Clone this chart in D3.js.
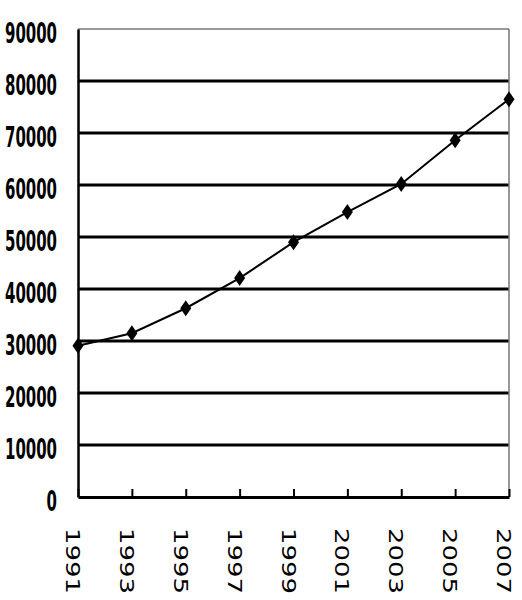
<!DOCTYPE html>
<html>
<head>
<meta charset="utf-8">
<script src="https://cdn.jsdelivr.net/npm/d3@7"></script>
<style>
body { margin: 0; background: #fff; }
</style>
</head>
<body>
<svg id="chart" width="522" height="600"></svg>
<script>
//Chart data
var years = ["1991", "1993", "1995", "1997", "1999", "2001", "2003", "2005", "2007"];
var values = [29100, 31500, 36300, 42100, 49000, 54800, 60200, 68600, 76500];
var yTicks = [0, 10000, 20000, 30000, 40000, 50000, 60000, 70000, 80000, 90000];

var svg = d3.select("#chart");
//Plot area edges (avoid the name "top", it is taken by window.top)
var plotLeft = 78, plotRight = 509, plotTop = 29, plotBottom = 497;

var x = d3.scalePoint().domain(years).range([plotLeft, plotRight]);
var y = d3.scaleLinear().domain([0, 90000]).range([plotBottom, plotTop]);

//Horizontal grid lines
svg.selectAll("line.grid")
    .data(yTicks.filter(function(d) {return d > 0;}))
    .enter()
    .append("line")
    .attr("class", "grid")
    .attr("x1", plotLeft).attr("x2", plotRight)
    .attr("y1", function(d) {return y(d);})
    .attr("y2", function(d) {return y(d);})
    .attr("stroke", function(d) {return d == 90000 ? "#777" : "#000";})
    .attr("stroke-width", function(d) {return d == 90000 ? 1.5 : 3;});

//Right border
svg.append("line")
    .attr("x1", plotRight).attr("x2", plotRight)
    .attr("y1", plotTop).attr("y2", plotBottom)
    .attr("stroke", "#777").attr("stroke-width", 1.5);

//Y axis
var yAxis = d3.axisLeft(y).tickValues(yTicks).tickSize(0).tickPadding(0).tickFormat(d3.format("d"));
var gy = svg.append("g").attr("transform", "translate(" + plotLeft + ",0)").call(yAxis);
gy.select(".domain").attr("stroke", "#000").attr("stroke-width", 2.5);
gy.selectAll("text")
    .attr("x", -21)
    .attr("dy", "0.45em")
    .attr("fill", "#000")
    .style("font-family", "'DejaVu Sans Condensed', 'DejaVu Sans', sans-serif")
    .style("font-size", "29px")
    .style("font-weight", "bold")
    .attr("textLength", function(d) {return String(d).length * 10.4;})
    .attr("lengthAdjust", "spacingAndGlyphs");

//X axis, ticks point up inside the plot
var xAxis = d3.axisBottom(x).tickSize(-8).tickSizeOuter(0).tickFormat("");
var gx = svg.append("g").attr("transform", "translate(0," + plotBottom + ")").call(xAxis);
gx.select(".domain").attr("stroke", "#000").attr("stroke-width", 3);
gx.selectAll(".tick line").attr("stroke", "#000").attr("stroke-width", 2);

//Rotated year labels
svg.selectAll("text.year")
    .data(years)
    .enter()
    .append("text")
    .attr("class", "year")
    .attr("transform", function(d) {return "translate(" + (x(d) - 5) + ",528) rotate(90)";})
    .attr("dy", "0.35em")
    .attr("text-anchor", "start")
    .attr("textLength", 66)
    .attr("lengthAdjust", "spacingAndGlyphs")
    .style("font-family", "'DejaVu Sans', sans-serif")
    .style("font-size", "20px")
    .attr("fill", "#000")
    .text(function(d) {return d;});

//Data line
var line = d3.line()
    .x(function(d, i) {return x(years[i]);})
    .y(function(d) {return y(d);});

svg.append("path")
    .datum(values)
    .attr("d", line)
    .attr("fill", "none")
    .attr("stroke", "#000")
    .attr("stroke-width", 2);

//Diamond markers
svg.selectAll("path.marker")
    .data(values)
    .enter()
    .append("path")
    .attr("class", "marker")
    .attr("d", "M0,-8L5.5,0L0,8L-5.5,0Z")
    .attr("transform", function(d, i) {return "translate(" + x(years[i]) + "," + y(d) + ")";})
    .attr("fill", "#000");
</script>
</body>
</html>
